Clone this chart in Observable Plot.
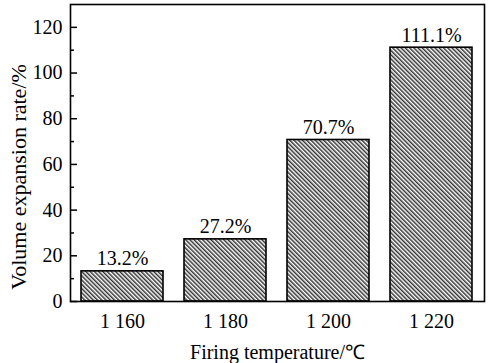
<!DOCTYPE html>
<html><head><meta charset="utf-8">
<script src="https://cdn.jsdelivr.net/npm/d3@7"></script>
<script src="https://cdn.jsdelivr.net/npm/@observablehq/plot@0.6"></script>
<style>
body{margin:0;background:#fff;}
</style></head>
<body><div id="chart"></div>
<script>
const temps = ["1 160", "1 180", "1 200", "1 220"];
const rates = [13.2, 27.2, 70.7, 111.1];
const labels = ["13.2%", "27.2%", "70.7%", "111.1%"];
const majorTicks = [0, 20, 40, 60, 80, 100, 120];
const minorTicks = [10, 30, 50, 70, 90, 110];

const data = temps.map((t, i) => ({t, v: rates[i], l: labels[i]}));

const chart = Plot.plot({
  width: 488, height: 363,
  marginLeft: 70, marginRight: 4, marginTop: 4, marginBottom: 62,
  style: {fontFamily: '"Liberation Serif", "Times New Roman", serif', fontSize: "20px", color: "#000", background: "#fff"},
  x: {domain: temps, paddingInner: 0.2, paddingOuter: 0.1, label: null},
  y: {domain: [0, 130], label: null},
  marks: [
    Plot.barY(data, {x: "t", y: "v", fill: "url(#hatch)", stroke: "#000", strokeWidth: 1.6}),
    Plot.text(data, {x: "t", y: "v", text: "l", lineAnchor: "bottom", dy: -6, fontSize: 20}),
    Plot.frame({stroke: "#000", strokeWidth: 1.6}),
    Plot.axisY(majorTicks, {tickSize: -7, tickPadding: 15, strokeWidth: 1.5, label: null, fontSize: 20}),
    Plot.axisY(minorTicks, {tickSize: -4, text: null, strokeWidth: 1.5, label: null}),
    Plot.axisX({tickSize: 0, tickPadding: 12, label: null, fontSize: 20}),
    Plot.text(["Firing temperature/℃"], {frameAnchor: "bottom", dy: 51, fontSize: 20, lineAnchor: "middle", textAnchor: "middle"}),
    Plot.text(["Volume expansion rate/%"], {frameAnchor: "left", dx: -52, dy: 24, rotate: -90, fontSize: 22, lineAnchor: "middle", textAnchor: "middle"})
  ]
});

// hatch pattern
const ns = "http://www.w3.org/2000/svg";
const defs = document.createElementNS(ns, "defs");
const pat = document.createElementNS(ns, "pattern");
pat.setAttribute("id", "hatch");
pat.setAttribute("patternUnits", "userSpaceOnUse");
pat.setAttribute("width", "3");
pat.setAttribute("height", "3");
pat.setAttribute("patternTransform", "rotate(-45)");
const bg = document.createElementNS(ns, "rect");
bg.setAttribute("width", "3"); bg.setAttribute("height", "3"); bg.setAttribute("fill", "#fff");
const ln = document.createElementNS(ns, "line");
ln.setAttribute("x1", "0.75"); ln.setAttribute("y1", "0");
ln.setAttribute("x2", "0.75"); ln.setAttribute("y2", "3");
ln.setAttribute("stroke", "#333"); ln.setAttribute("stroke-width", "1.5");
pat.appendChild(bg); pat.appendChild(ln); defs.appendChild(pat);
chart.insertBefore(defs, chart.firstChild);

document.getElementById("chart").appendChild(chart);
</script></body></html>
